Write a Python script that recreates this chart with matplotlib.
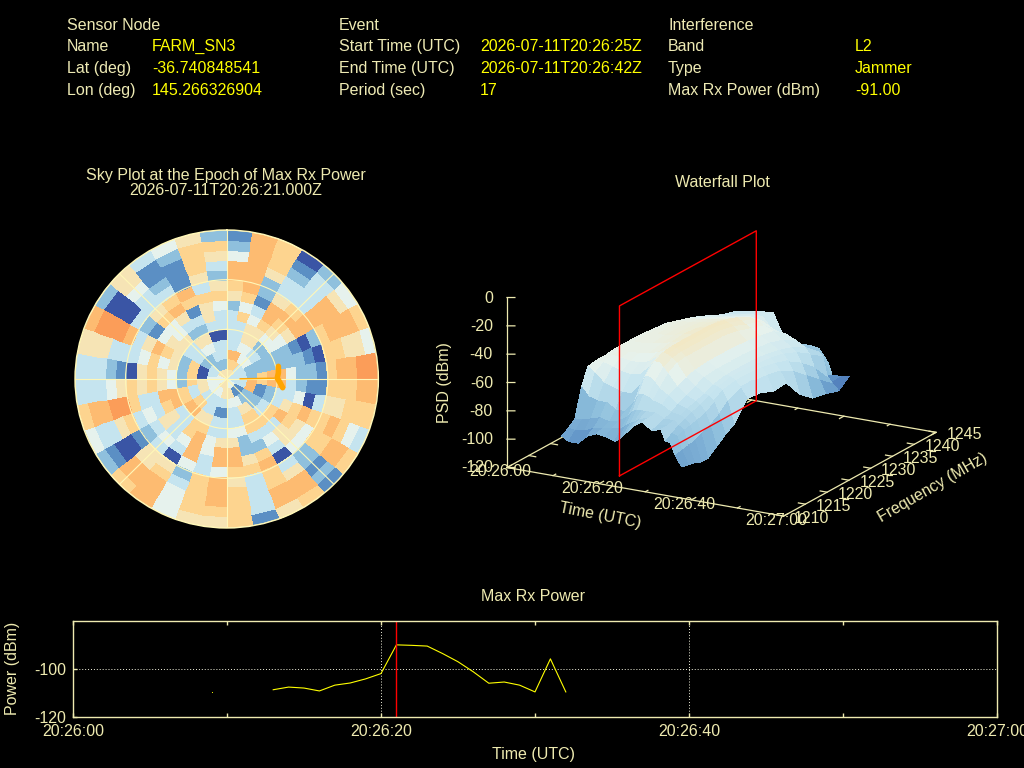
import matplotlib
matplotlib.use("Agg")
import matplotlib.pyplot as plt
import numpy as np
from matplotlib.colors import LinearSegmentedColormap, Normalize
from mpl_toolkits.mplot3d import proj3d

plt.rcParams['font.family'] = ['Liberation Sans', 'DejaVu Sans']
plt.rcParams['axes.unicode_minus'] = False

W, H = 1024, 768
CREAM = '#eeeab0'
LABEL = '#eeeab4'
VALUE = '#ffff00'
FS = 11.55

header_cols = [
    (67, 152, ["Sensor Node", "Name", "Lat (deg)", "Lon (deg)"],
     ["", "FARM_SN3", "-36.740848541", "145.266326904"]),
    (339, 480, ["Event", "Start Time (UTC)", "End Time (UTC)", "Period (sec)"],
     ["", "2026-07-11T20:26:25Z", "2026-07-11T20:26:42Z", "17"]),
    (668, 855, ["Interference", "Band", "Type", "Max Rx Power (dBm)"],
     ["", "L2", "Jammer", "-91.00"]),
]
header_rows_y = [24, 45, 67, 89]

# Sky map: one string per 10 deg azimuth sector (clockwise from north),
# each digit is a colour level for a ring from the centre to the edge.
sky_levels = [
    "567333325677421", "453465646777777", "443455431225666", "534213677533210",
    "432324567633332", "323222457777754", "332222210267776", "342332221066554",
    "234677422167788", "567767321166677", "333123340355666", "432330567667643",
    "412236765466776", "212432355422121", "433566343035776", "454377326766775",
    "554334225633331", "566632577656666", "553133577477765", "432356443366665",
    "544356777423444", "563575643056777", "345673334355776", "453323553210012",
    "445367634365334", "345267733688776", "343624565654333", "340546565012333",
    "535625464333555", "646466675378887", "542335541230002", "456566446533455",
    "325452357632113", "433023316711124", "554303556356665", "564323346523562",
]
# Inner rings hold fewer bins: azimuth sectors per bin, ring by ring
ring_bin_sectors = [6, 4, 3, 2, 2, 2, 1, 1, 1, 1, 1, 1, 1, 1, 1]
jam_az = [76, 83, 89, 94, 99]
jam_r = [31.6, 30.9, 30.0, 31.7, 33.6]
ray_az = [89, 89]
ray_r = [8, 28]

# Waterfall
wf_times = [8.5, 10, 12, 14, 16, 18, 20, 21, 22, 23, 24, 26, 28, 30, 31, 32, 33, 34.5]
wf_freqs = [1213.6, 1215.1, 1216.6, 1218.1, 1219.6, 1221.6, 1223.6, 1225.6, 1228.6,
            1231.6, 1234.6, 1237.6, 1240.6, 1243.6, 1246.6, 1249.6, 1252]
wf_psd = [
    [-99, -96, -92, -72, -60, -59, -59, -58, -58, -58, -59, -60, -63, -66, -70, -75, -77],
    [-102, -97, -92, -78, -64, -60, -58, -58, -57, -57, -57, -58, -61, -65, -69, -73, -75],
    [-102, -96, -90, -80, -70, -62, -59, -58, -57, -56, -56, -57, -60, -64, -68, -72, -74],
    [-96, -93, -88, -80, -72, -64, -60, -58, -56, -55, -55, -56, -59, -63, -67, -71, -73],
    [-93, -92, -90, -84, -74, -65, -60, -57, -55, -54, -54, -55, -58, -62, -66, -70, -72],
    [-94, -91, -88, -84, -74, -64, -58, -55, -53, -52, -53, -54, -57, -61, -65, -70, -71],
    [-96, -90, -84, -76, -66, -57, -53, -52, -51, -51, -51, -52, -55, -60, -66, -78, -85],
    [-94, -87, -80, -70, -60, -53, -50, -49, -49, -49, -49, -51, -54, -59, -67, -80, -87],
    [-90, -85, -78, -70, -60, -53, -51, -50, -50, -50, -50, -52, -56, -60, -69, -82, -88],
    [-87, -83, -78, -71, -63, -56, -53, -52, -52, -52, -52, -54, -58, -61, -71, -84, -89],
    [-83, -81, -78, -73, -67, -60, -56, -55, -55, -55, -55, -57, -60, -63, -72, -85, -90],
    [-79, -79, -78, -75, -71, -68, -65, -63, -62, -62, -62, -63, -64, -66, -73, -87, -90],
    [-84, -83, -81, -79, -76, -73, -70, -67, -66, -66, -66, -67, -68, -71, -76, -88, -91],
    [-82, -82, -81, -80, -78, -76, -74, -71, -69, -69, -69, -70, -72, -75, -80, -88, -100],
    [-90, -87, -84, -82, -80, -78, -75, -72, -70, -70, -71, -72, -74, -78, -84, -90, -110],
    [-90, -88, -86, -85, -84, -82, -78, -74, -72, -72, -73, -75, -78, -84, -92, -104, -108],
    [-98, -97, -96, -95, -93, -90, -86, -80, -76, -76, -77, -79, -84, -92, -100, -108, -108],
    [-106, -107, -108, -110, -110, -105, -100, -96, -83, -84, -88, -87, -100, -108, -110, -113, -107],
]
time_ticks = [0, 20, 40, 60]
time_minor = [10, 30, 50]
time_labels = ["20:26:00", "20:26:20", "20:26:40", "20:27:00"]
freq_ticks = [1210, 1215, 1220, 1225, 1230, 1235, 1240, 1245]
psd_ticks = [0, -20, -40, -60, -80, -100, -120]
marker_time = 21
marker_freq = [1213.6, 1245]

# Max Rx power line
pw_times = [13, 14, 15, 16, 17, 18, 19, 20, 21, 22, 23, 24, 25, 26, 27, 28, 29, 30, 31, 32]
pw_vals = [-108.7, -107.6, -108, -109.2, -106.8, -105.9, -104.2, -102, -90.1, -90.3,
           -90.6, -93.7, -97.1, -101.3, -106, -105.5, -106.8, -109.6, -95.9, -109.6]
pw_dot_t = [9]
pw_dot_v = [-109.6]

cmap = LinearSegmentedColormap.from_list(
    "sky", ['#3a55a5', '#5b8fc4', '#8fc0dd', '#c5e4ef', '#e6f2ee',
            '#f6e4b6', '#fdd590', '#fdbc72', '#fb9d59'])

fig = plt.figure(figsize=(W / 100, H / 100), dpi=100, facecolor='black')


def T(x, y, s, color=CREAM, ha='center', va='center', rot=0, size=FS):
    fig.text(x / W, 1 - (y + 1.5) / H, s, color=color, ha=ha, va=va, rotation=rot,
             rotation_mode='anchor', fontsize=size)


def rect(l, t, r, b):
    return [l / W, 1 - b / H, (r - l) / W, (b - t) / H]


# Header
for lx, vx, labs, vals in header_cols:
    for y, lab, val in zip(header_rows_y, labs, vals):
        T(lx, y, lab, LABEL, ha='left')
        if val:
            T(vx, y, val, VALUE, ha='left')

# Sky plot
T(226, 174, "Sky Plot at the Epoch of Max Rx Power")
T(226, 189, "2026-07-11T20:26:21.000Z")
axs = fig.add_axes(rect(75, 230, 378.4, 528), projection='polar', facecolor='black')
axs.set_aspect('auto')
axs.set_theta_zero_location('N')
axs.set_theta_direction(-1)
sky = np.array([[int(c) for c in row] for row in sky_levels]).T
for ring, step in enumerate(ring_bin_sectors):
    sky[ring] = sky[ring][np.arange(36) // step * step]
az_edges = np.radians(np.arange(0, 361, 10))
r_edges = np.arange(0, 91, 6)
axs.pcolormesh(az_edges, r_edges, sky, cmap=cmap, vmin=0, vmax=8, shading='flat')
axs.set_rlim(0, 90)
axs.set_rticks([30, 60, 90])
axs.set_thetagrids(range(0, 360, 45))
axs.set_xticklabels([])
axs.set_yticklabels([])
axs.grid(True, color='#fff7b8', lw=0.8, ls='-')
axs.spines['polar'].set_color('#fff7b8')
axs.spines['polar'].set_linewidth(1)
axs.plot(np.radians(ray_az), ray_r, color='#ffa500', lw=1, zorder=5)
axs.plot(np.radians(jam_az), jam_r, color='#ffa500', lw=4, zorder=5,
         solid_capstyle='round')

# Waterfall
T(722, 181, "Waterfall Plot")
ax3 = fig.add_axes([0.4, 0.25, 0.5, 0.6], projection='3d', computed_zorder=False)
ax3.set_proj_type('ortho')
ax3.view_init(elev=18.1, azim=-60.5)
ax3.set_box_aspect((318, 310, 179))
ax3.set_xlim(0, 60)
ax3.set_ylim(1210, 1245)
ax3.set_zlim(-120, 0)
ax3.set_axis_off()
ax3.patch.set_alpha(0)


def px(t, f, z):
    x, y, _ = proj3d.proj_transform(t, f, z, ax3.get_proj())
    return ax3.transData.transform((x, y))


# Fit the 3D box on the page: the time axis has to span these two page points
target_a = np.array([507.0, H - 467.5])
target_b = np.array([783.5, H - 516.2])
for _ in range(3):
    fig.canvas.draw()
    a, b = px(0, 1210, -120), px(60, 1210, -120)
    k = np.linalg.norm(target_b - target_a) / np.linalg.norm(b - a)
    pos = ax3.get_position()
    c = np.array([pos.x0 + pos.width / 2, pos.y0 + pos.height / 2]) * [W, H]
    new_c = target_a + (c - a) * k
    size = pos.width * W * k
    ax3.set_position([(new_c[0] - size / 2) / W, (new_c[1] - size / 2) / H,
                      size / W, size / H])
fig.canvas.draw()

line = dict(color=CREAM, lw=0.9, zorder=1)
tmin, tmax, fmin, fmax, zmin, zmax = 0, 60, 1210, 1245, -120, 0
ax3.plot([tmin, tmax, tmax, tmin, tmin], [fmin, fmin, fmax, fmax, fmin], [zmin] * 5, **line)
ax3.plot([tmin, tmin], [fmin, fmin], [zmin, zmax], **line)
for t in time_ticks + time_minor:
    ln = 1.0 if t in time_ticks else 0.6
    ax3.plot([t, t], [fmin, fmin + ln], [zmin, zmin], **line)
    ax3.plot([t, t], [fmax, fmax - ln], [zmin, zmin], **line)
for f in freq_ticks:
    ax3.plot([tmax, tmax - 1.5], [f, f], [zmin, zmin], **line)
    ax3.plot([tmin, tmin + 1.5], [f, f], [zmin, zmin], **line)
for z in psd_ticks:
    ax3.plot([tmin, tmin + 1.3], [fmin, fmin + 0.44], [z, z], **line)

tt, ff = np.meshgrid(wf_times, wf_freqs, indexing='ij')
zz = np.array(wf_psd, dtype=float)
norm = Normalize(-120, 0)
ax3.plot_surface(tt, ff, zz, facecolors=cmap(norm(zz)), rstride=1, cstride=1,
                 shade=False, linewidth=0, antialiased=False, zorder=2)
red = dict(color='#ff0000', lw=1, zorder=3)
ax3.plot([marker_time] * 5,
         [marker_freq[0], marker_freq[1], marker_freq[1], marker_freq[0], marker_freq[0]],
         [zmin, zmin, zmax, zmax, zmin], **red)

for t, lab in zip(time_ticks, time_labels):
    p = px(t, fmin, zmin)
    T(p[0] - 7, H - p[1] + 3, lab)
for f in freq_ticks:
    p = px(tmax, f, zmin)
    T(p[0] + 28, H - p[1] + 0.5, str(f))
for z in psd_ticks:
    p = px(tmin, fmin, z)
    T(p[0] - 14, H - p[1] - 1, str(z), ha='right')
T(444, 381, "PSD (dBm)", rot=90)
T(600, 514, "Time (UTC)", rot=-11)
T(933, 486, "Frequency (MHz)", rot=30)

# Max Rx power
T(533, 595, "Max Rx Power")
axp = fig.add_axes(rect(73, 620.5, 997, 717), facecolor='black')
axp.set_xlim(0, 60)
axp.set_ylim(-120, -80)
axp.plot(pw_times, pw_vals, color='#ffff00', lw=0.8)
axp.plot(pw_dot_t, pw_dot_v, ls='none', marker='s', ms=0.6, mew=0, color='#ffff00')
axp.axvline(marker_time, color='#ff0000', lw=1)
axp.set_xticks(time_ticks)
axp.set_xticklabels(time_labels)
axp.set_xticks(time_minor, minor=True)
axp.set_yticks([-120, -100])
axp.tick_params(which='both', direction='in', top=True, length=3, width=1, color=CREAM,
                labelcolor=CREAM, labelsize=FS, pad=5)
axp.grid(True, axis='both', which='major', color='#f5f5e0', lw=0.7, ls=(0, (1, 2)))
for s in axp.spines.values():
    s.set_color(CREAM)
    s.set_linewidth(1)
T(13, 667, "Power (dBm)", rot=90)
T(533, 753.5, "Time (UTC)")

fig.savefig("out.png", dpi=100, facecolor='black')
